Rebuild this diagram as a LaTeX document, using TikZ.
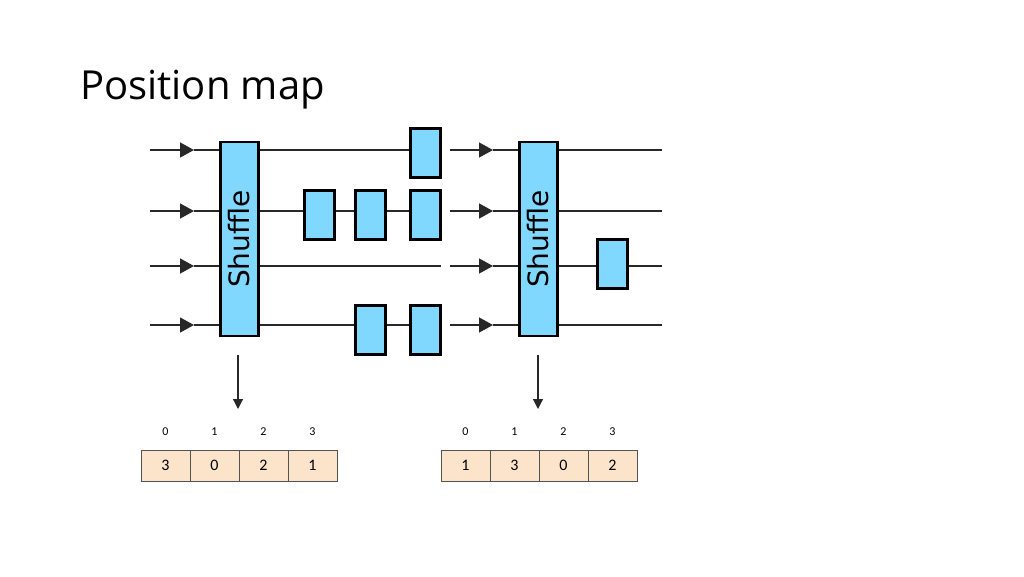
\documentclass[tikz,border=0pt]{standalone}
\usepackage{fontspec}
\setmainfont{Carlito}
\newfontfamily\shufflefont{DejaVu Sans}
\newfontfamily\titlefont{Open Sans}
\usepackage{tikz}
\usetikzlibrary{arrows.meta}
\usetikzlibrary{calc}

\definecolor{boxblue}{RGB}{128,216,255}
\definecolor{cellpeach}{RGB}{252,228,202}
\definecolor{wire}{RGB}{40,40,40}

\begin{document}
\begin{tikzpicture}[x=1pt,y=-1pt,
  shufflebox/.style={draw=black,line width=2.4pt,fill=boxblue,minimum width=38pt,
    minimum height=194pt,inner sep=0pt},
  gatebox/.style={draw=black,line width=3pt,fill=boxblue,minimum width=30pt,
    minimum height=49pt,inner sep=0pt},
  cellbox/.style={draw=wire!80,line width=1pt,fill=cellpeach,minimum width=49pt,
    minimum height=31pt,inner sep=0pt,font=\fontsize{16}{16}\selectfont},
  idxlabel/.style={font=\fontsize{12}{12}\selectfont},
  wireline/.style={draw=wire,line width=1.3pt},
  intip/.style={-{Triangle[length=14pt,width=15pt]}}]

  \useasboundingbox (0,0) rectangle (1024,576);

  % Title
  \node[anchor=base west,inner sep=0pt,font=\titlefont\fontsize{40}{40}\selectfont] (title) at (80,99) {Position map};

  % Shuffle stages
  \node[shufflebox] (shufA) at (239.5,239) {\rotatebox{90}{\shufflefont\fontsize{28}{28}\selectfont Shuffle}};
  \node[shufflebox] (shufB) at (538.5,239) {\rotatebox{90}{\shufflefont\fontsize{28}{28}\selectfont Shuffle}};

  % Wires: start, arrow tip, second arrow tip, end
  \foreach \r/\y in {1/150,2/211,3/266,4/325} {
    \coordinate (inA\r) at (150,\y);
    \coordinate (tipA\r) at (194,\y);
    \coordinate (inB\r) at (450,\y);
    \coordinate (tipB\r) at (493,\y);
    \coordinate (out\r) at (662,\y);
    \path[wireline,intip] (inA\r) -- (tipA\r);
    \path[wireline] (tipA\r) -- (shufA.west |- tipA\r);
    \path[wireline] (shufA.east |- tipA\r) -- (441,\y);
    \path[wireline,intip] (inB\r) -- (tipB\r);
    \path[wireline] (tipB\r) -- (shufB.west |- tipB\r);
    \path[wireline] (shufB.east |- tipB\r) -- (out\r);
  }

  % Gates
  \node[gatebox] (g1c) at (425.5,153) {};
  \node[gatebox] (g2a) at (319.5,214.5) {};
  \node[gatebox] (g2b) at (370,214.5) {};
  \node[gatebox] (g2c) at (425.5,214.5) {};
  \node[gatebox] (g4b) at (370,329.5) {};
  \node[gatebox] (g4c) at (425.5,329.5) {};
  \node[gatebox] (g3r) at (612.5,264) {};

  % Position maps
  \foreach \i/\v in {0/3,1/0,2/2,3/1} {
    \node[cellbox] (mapA\i) at ({165.5+49*\i},465.5) {\v};
    \node[idxlabel] (idxA\i) at ({165.5+49*\i},432) {\i};
  }
  \foreach \i/\v in {0/1,1/3,2/0,3/2} {
    \node[cellbox] (mapB\i) at ({465.5+49*\i},465.5) {\v};
    \node[idxlabel] (idxB\i) at ({465.5+49*\i},432) {\i};
  }

  % Arrows down to maps
  \coordinate (downA) at (238,355);
  \coordinate (downB) at (538,355);
  \draw[wire,line width=1.2pt,-{Triangle[length=10pt,width=10pt]}] (downA) -- (downA |- 0,409);
  \draw[wire,line width=1.2pt,-{Triangle[length=10pt,width=10pt]}] (downB) -- (downB |- 0,409);

\end{tikzpicture}
\end{document}
